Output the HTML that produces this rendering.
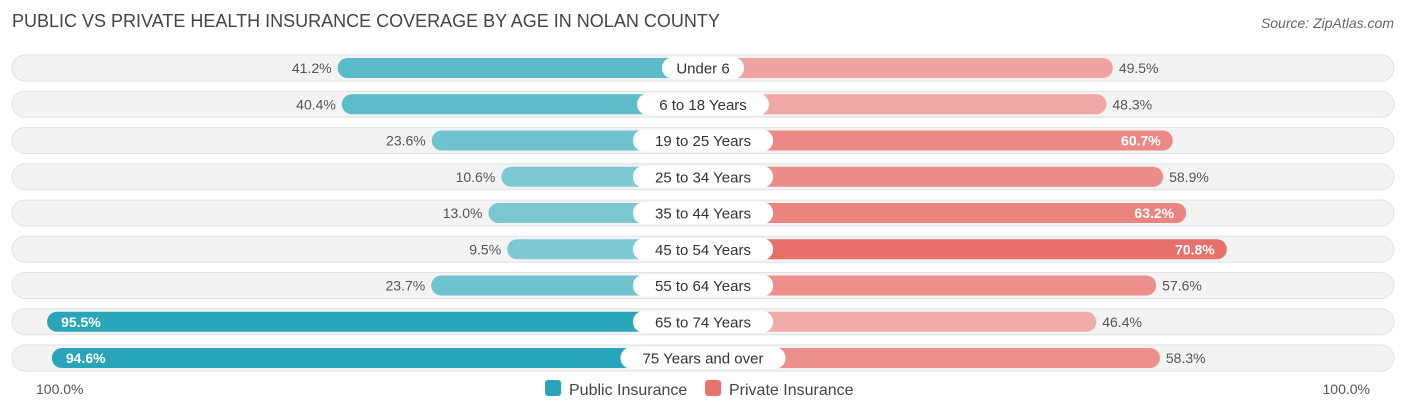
<!DOCTYPE html>
<html><head><meta charset="utf-8">
<style>
body{margin:0;width:1406px;height:414px;background:#fff;font-family:"Liberation Sans",sans-serif;overflow:hidden;position:relative}
.t{position:absolute;left:12px;top:11px;font-size:18px;color:#444}
.src{position:absolute;right:12px;top:15px;font-size:14px;color:#666;font-style:italic}
</style></head><body>
<div class="t">PUBLIC VS PRIVATE HEALTH INSURANCE COVERAGE BY AGE IN NOLAN COUNTY</div>
<div class="src">Source: ZipAtlas.com</div>
<svg id="c" width="1406" height="414" style="position:absolute;left:0;top:0"></svg>
<script>
const categories=["Under 6","6 to 18 Years","19 to 25 Years","25 to 34 Years","35 to 44 Years","45 to 54 Years","55 to 64 Years","65 to 74 Years","75 Years and over"];
const publicVals=[41.2,40.4,23.6,10.6,13.0,9.5,23.7,95.5,94.6];
const privateVals=[49.5,48.3,60.7,58.9,63.2,70.8,57.6,46.4,58.3];
const axisLabels=["100.0%","100.0%"];
const NS="http://www.w3.org/2000/svg";
const svg=document.getElementById('c');
const cx=703;
function w(v){return 145+5.35*v;}
function rowY(i){return 68+i*36.25;}
function mk(t,a){const e=document.createElementNS(NS,t);for(const k in a)e.setAttribute(k,a[k]);svg.appendChild(e);return e;}
function mix(c1,c2,f){return 'rgb('+c1.map((x,i)=>Math.round(x+(c2[i]-x)*f)).join(',')+')';}
categories.forEach((cat,i)=>{
 const y=rowY(i);
 const bg=mk('rect',{x:12,y:y-13,width:1382,height:26,rx:13,fill:'#f3f3f3',stroke:'#e2e2e2'});
 
 
 const pv=publicVals[i],rv=privateVals[i];
 const pw=w(pv),rw=w(rv);
 const pf=Math.min(1,Math.max(0,(pv-10)/80));
 const pb=mk('rect',{x:cx-pw,y:y-10,width:pw,height:20,rx:10,fill:mix([126,201,212],[40,165,185],pf)});
 
 
 const rf=Math.min(1,Math.max(0,(rv-45)/26));
 const rb=mk('rect',{x:cx,y:y-10,width:rw,height:20,rx:10,fill:mix([242,175,172],[232,112,106],rf)});
 
 
 const pin=pv>80;
 const pt=mk('text',{x:pin?cx-pw+14:cx-pw-6,y:y+5,'font-size':14,fill:pin?'#fff':'#555','text-anchor':pin?'start':'end','font-weight':pin?'bold':'normal'});
 pt.textContent=pv.toFixed(1)+'%';
 
 
 const rin=rv>60;
 const rt=mk('text',{x:rin?cx+rw-12:cx+rw+6,y:y+5,'font-size':14,fill:rin?'#fff':'#555','text-anchor':rin?'end':'start','font-weight':rin?'bold':'normal'});
 rt.textContent=rv.toFixed(1)+'%';
 
 
 const lw=cat.length*8.3+24;
 const lb=mk('rect',{x:cx-lw/2,y:y-11,width:lw,height:22,rx:11,fill:'#fff'});
 
 
 const lt=mk('text',{x:cx,y:y+5.5,'font-size':15,fill:'#333','text-anchor':'middle'});
 lt.textContent=cat;
 
 
});
const a1=mk('text',{x:36,y:394,'font-size':14,fill:'#555'});a1.textContent=axisLabels[0];


const a2=mk('text',{x:1370,y:394,'font-size':14,fill:'#555','text-anchor':'end'});a2.textContent=axisLabels[1];


const l1=mk('rect',{x:545,y:380,width:16,height:16,rx:3,fill:'#2aa5b8'});


const t1=mk('text',{x:569,y:395,'font-size':16,fill:'#444'});t1.textContent='Public Insurance';


const l2=mk('rect',{x:705,y:380,width:16,height:16,rx:3,fill:'#e8736f'});


const t2=mk('text',{x:729,y:395,'font-size':16,fill:'#444'});t2.textContent='Private Insurance';


</script>
</body></html>
